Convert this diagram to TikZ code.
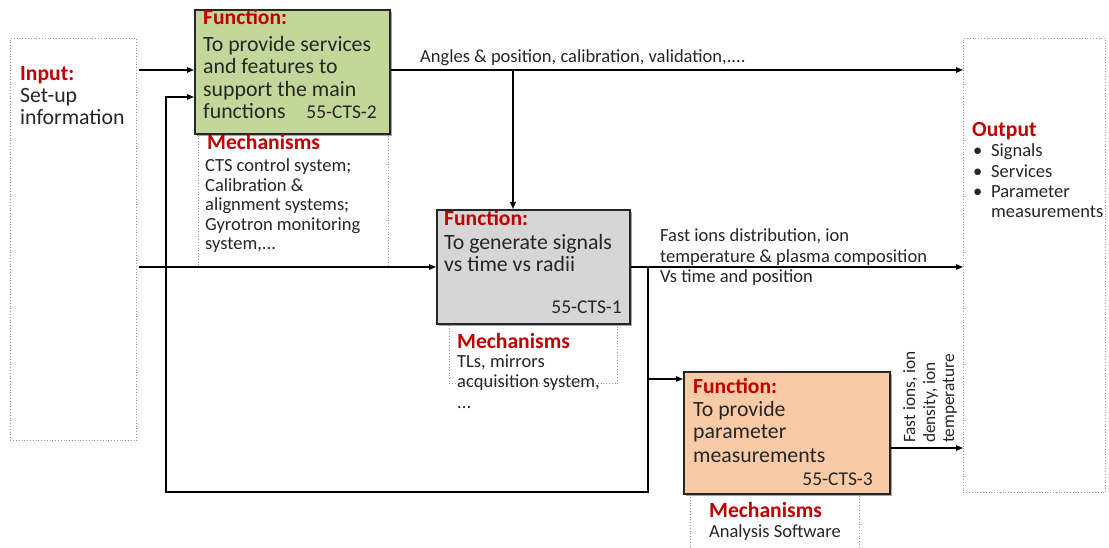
\documentclass[tikz,border=0pt]{standalone}
\usepackage{fontspec}
\setmainfont{Carlito}
\usetikzlibrary{arrows.meta,shadows}
\definecolor{hdred}{HTML}{C00000}
\definecolor{fngreen}{HTML}{C4D79B}
\definecolor{fngray}{HTML}{D6D6D6}
\definecolor{fnorange}{HTML}{F9CAA6}
\begin{document}
\begin{tikzpicture}[x=1pt,y=-1pt,
  fnbox/.style={draw=black!85, line width=1.6pt, inner sep=0pt, anchor=north west,
    drop shadow={shadow xshift=2.5pt, shadow yshift=-2.5pt, opacity=0.35, fill=black}},
  dotbox/.style={draw=black!40, dotted, line width=0.8pt, inner sep=0pt, anchor=north west},
  flow/.style={line width=1.3pt, -{Triangle[length=7pt,width=5.5pt]}},
  txt/.style={anchor=base west, inner sep=0pt, font=\fontsize{21.8}{23}\selectfont, text=black!85},
  hd/.style={anchor=base west, inner sep=0pt, font=\bfseries\fontsize{21.6}{23}\selectfont, text=hdred},
  mtxt/.style={anchor=base west, inner sep=0pt, font=\fontsize{18.5}{20}\selectfont, text=black!85},
  code/.style={anchor=base east, inner sep=0pt, font=\fontsize{19.5}{20}\selectfont, text=black!85},
  lbl/.style={anchor=base west, inner sep=0pt, font=\fontsize{18.5}{20}\selectfont, text=black!85},
  rlbl/.style={lbl, font=\fontsize{17.3}{19}\selectfont, rotate=90},
]
\useasboundingbox (0,0) rectangle (1109,548);
\fill[white] (0,0) rectangle (1109,548);

% dotted frames: input, output and the mechanism panels
\node[dotbox, minimum width=126pt, minimum height=402pt] (inbox) at (10,38) {};
\node[dotbox, minimum width=142pt, minimum height=454pt] (outbox) at (963,38) {};
\node[dotbox, minimum width=190pt, minimum height=133pt] (mech2) at (198,133) {};
\node[dotbox, minimum width=168pt, minimum height=60pt] (mech1) at (449,323) {};
\node[dotbox, minimum width=169pt, minimum height=70pt] (mech3) at (690,493) {};

% function boxes
\node[fnbox, fill=fngreen, minimum width=195pt, minimum height=124pt] (fn2) at (194,9) {};
\node[fnbox, fill=fngray, minimum width=193pt, minimum height=114pt] (fn1) at (436,209) {};
\node[fnbox, fill=fnorange, minimum width=206pt, minimum height=122pt] (fn3) at (683,371) {};

% input panel
\node[hd] (inhd) at (20,81) {Input:};
\node[txt] (in1) at (20,103) {Set-up};
\node[txt] (in2) at (20,125) {information};

% 55-CTS-2
\node[hd] (f2hd) at (203,25) {Function:};
\node[txt] (f2a) at (203,52) {To provide services};
\node[txt] (f2b) at (203,74) {and features to};
\node[txt] (f2c) at (203,97) {support the main};
\node[txt] (f2d) at (203,119) {functions};
\node[code] (f2id) at (377,119) {55-CTS-2};
\node[hd] (m2hd) at (207,150) {Mechanisms};
\node[mtxt] (m2a) at (205,172) {CTS control system;};
\node[mtxt] (m2b) at (205,191.5) {Calibration \&};
\node[mtxt] (m2c) at (205,211) {alignment systems;};
\node[mtxt] (m2d) at (205,230.5) {Gyrotron monitoring};
\node[mtxt] (m2e) at (205,250) {system,...};

% 55-CTS-1
\node[hd] (f1hd) at (444,226) {Function:};
\node[txt] (f1a) at (444,250) {To generate signals};
\node[txt] (f1b) at (444,272) {vs time vs radii};
\node[code] (f1id) at (622,313) {55-CTS-1};
\node[hd] (m1hd) at (457,348) {Mechanisms};
\node[mtxt] (m1a) at (457,367) {TLs, mirrors};
\node[mtxt] (m1b) at (457,387) {acquisition system,};
\node[mtxt] (m1c) at (457,408) {...};

% 55-CTS-3
\node[hd] (f3hd) at (693,393) {Function:};
\node[txt] (f3a) at (693,416) {To provide};
\node[txt] (f3b) at (693,438) {parameter};
\node[txt] (f3c) at (693,462) {measurements};
\node[code] (f3id) at (873,485) {55-CTS-3};
\node[hd] (m3hd) at (709,517) {Mechanisms};
\node[mtxt] (m3a) at (709,537) {Analysis Software};

% output panel
\node[hd] (outhd) at (972,137) {Output};
\foreach \t [count=\i from 0] in {Signals, Services, Parameter} {
  \node[mtxt] (ob\i) at (973,157+20.3*\i) {\textbullet};
  \node[mtxt] (ot\i) at (991,157+20.3*\i) {\t};
}
\node[mtxt] (ot3) at (991,218) {measurements};

% connector labels
\node[lbl] (lblA) at (420,63) {Angles \& position, calibration, validation,....};
\node[lbl] (lblB1) at (660,242) {Fast ions distribution, ion};
\node[lbl] (lblB2) at (660,262) {temperature \& plasma composition};
\node[lbl] (lblB3) at (660,283) {Vs time and position};
\node[rlbl] (lblC1) at (915,443) {Fast ions, ion};
\node[rlbl] (lblC2) at (935,443) {density, ion};
\node[rlbl] (lblC3) at (954,443) {temperature};

% connectors
\coordinate (yA) at (0,70);
\coordinate (yB) at (0,97);
\coordinate (yC) at (0,267);
\coordinate (yD) at (0,379);
\coordinate (yE) at (0,448);
\coordinate (tap) at (513,70);
\coordinate (split) at (648,267);
\coordinate (loopR) at (648,492);
\coordinate (loopL) at (166,492);
\coordinate (loopT) at (166,97);

\draw[flow] ([xshift=2pt]inbox.east |- yA) -- (fn2.west |- yA);
\draw[flow] (fn2.east |- yA) -- (outbox.west |- yA);
\draw[flow] (tap) -- (tap |- fn1.north);
\draw[flow] ([xshift=2pt]inbox.east |- yC) -- (fn1.west |- yC);
\draw[flow] (fn1.east |- yC) -- (outbox.west |- yC);
\draw[flow] (split) -- (loopR) -- (loopL) -- (loopT) -- (fn2.west |- yB);
\draw[flow] (split |- yD) -- (fn3.west |- yD);
\draw[flow] (fn3.east |- yE) -- (outbox.west |- yE);
\end{tikzpicture}
\end{document}
